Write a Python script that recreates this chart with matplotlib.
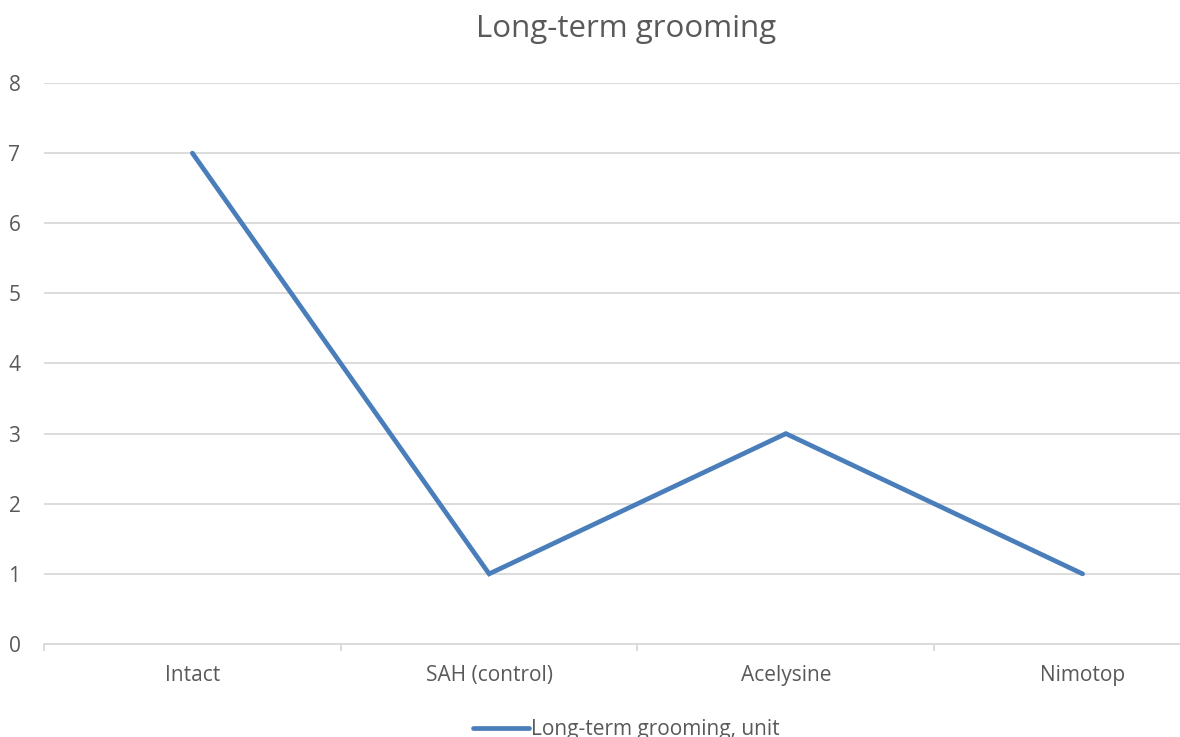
import matplotlib.pyplot as plt
import numpy as np

plt.rcParams['font.family'] = ['Open Sans', 'DejaVu Sans']

groups = ['Intact', 'SAH (control)', 'Acelysine', 'Nimotop']
grooming = [7, 1, 3, 1]
y_ticks = [0, 1, 2, 3, 4, 5, 6, 7, 8]

text_col = '#595959'
grid_col = '#d9d9d9'
line_col = '#4a7ebb'

fig = plt.figure(figsize=(11.8, 7.37), dpi=100)
# plot area runs past the right edge of the figure
ax = fig.add_axes([0.0373, 0.1262, 1.0059, 0.7612])

x = np.arange(len(groups))
ax.plot(x, grooming, color=line_col, lw=3.4, solid_capstyle='round',
        solid_joinstyle='miter', label='Long-term grooming, unit', zorder=3)

ax.set_xlim(-0.5, len(groups) - 0.5)
ax.set_ylim(0, 8)
ax.set_yticks(y_ticks)
ax.set_xticks(x)
ax.set_xticklabels(groups)
ax.set_xticks(np.arange(len(groups) + 1) - 0.5, minor=True)

ax.grid(axis='y', color=grid_col, lw=1.3, zorder=0)
for s in ['top', 'right', 'left']:
    ax.spines[s].set_visible(False)
ax.spines['bottom'].set_color(grid_col)
ax.spines['bottom'].set_linewidth(1.3)

ax.tick_params(axis='y', length=0, pad=17, labelsize=15, labelcolor=text_col)
ax.tick_params(axis='x', which='major', length=0, pad=15, labelsize=15, labelcolor=text_col)
ax.tick_params(axis='x', which='minor', length=5, width=1.3, color=grid_col)

fig.text(0.5305, 0.9607, 'Long-term grooming', ha='center', va='center',
         fontsize=22.5, color=text_col)

leg = fig.legend(loc='center', bbox_to_anchor=(0.531, 0.0095), frameon=False,
                 fontsize=15, handlelength=2.7, handletextpad=0.1)
for t in leg.get_texts():
    t.set_color(text_col)

fig.savefig('out.png', dpi=100)
